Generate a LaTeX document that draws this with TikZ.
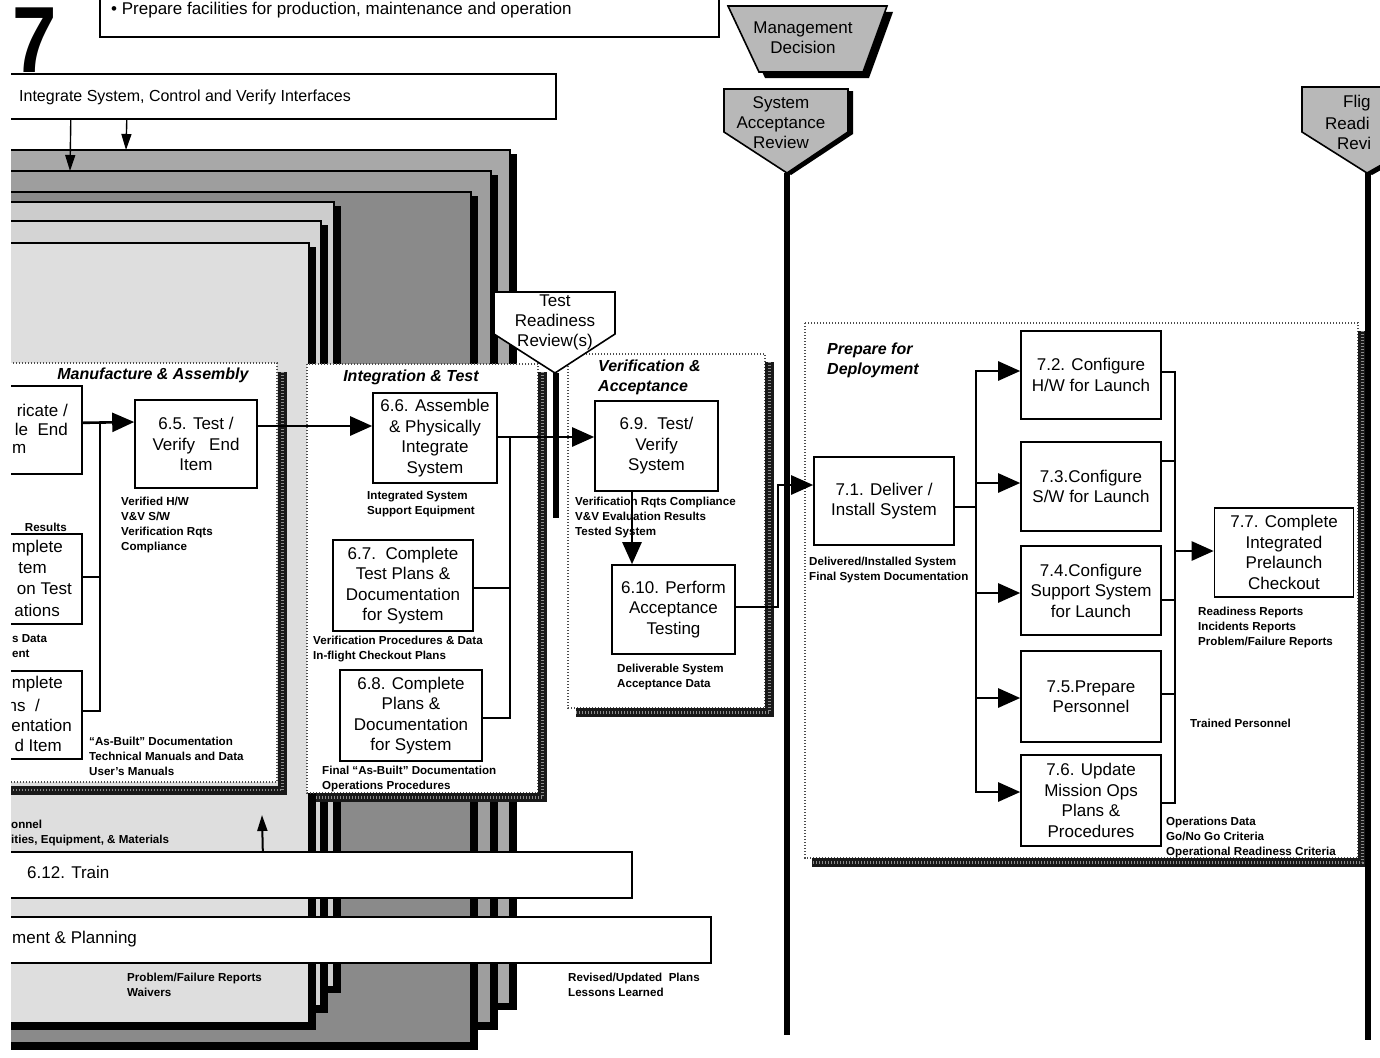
\documentclass[tikz,border=0pt]{standalone}
\usepackage{fontspec}
\setmainfont{Liberation Sans}
\usetikzlibrary{arrows.meta}
\definecolor{gA}{gray}{0.66}
\definecolor{gB}{gray}{0.62}
\definecolor{gC}{gray}{0.54}
\definecolor{gD}{gray}{0.80}
\definecolor{gE}{gray}{0.83}
\definecolor{gF}{gray}{0.87}
\definecolor{gM}{gray}{0.72}
\begin{document}
\begin{tikzpicture}[x=1pt,y=-1pt,
 pbox/.style={draw=black, line width=1.6pt, fill=white, align=center, font=\fontsize{17}{20.5}\selectfont, inner sep=0pt},
 frag/.style={font=\fontsize{17}{20.5}\selectfont, inner sep=0pt},
 lbl/.style={font=\fontsize{11.6}{15}\selectfont\bfseries, align=left, inner sep=0pt, anchor=west},
 conn/.style={line width=2.6pt},
 arr/.style={line width=2.6pt, -{Triangle[length=22pt,width=19pt]}},
 tarr/.style={line width=1.4pt, -{Triangle[length=16pt,width=10pt]}},
 grp/.style={fill=white, draw=black!70, line width=1.2pt, dash pattern=on 1.2pt off 1.8pt},
 hatch/.style={line width=9pt, black!90, postaction={draw, white!55!black, line width=2.5pt, dash pattern=on 0.7pt off 2.3pt}},
 gtitle/.style={font=\fontsize{16}{20}\selectfont\bfseries\itshape, inner sep=0pt},
 cardedge/.style={draw=black, line width=1.2pt},
 cardshadow/.style={line width=6pt, black},
 mile/.style={draw=black, line width=1.6pt, fill=gM},
 mtext/.style={font=\fontsize{17}{20}\selectfont, align=center, inner sep=0pt},
 wbox/.style={draw=black, line width=1.6pt, fill=white},
 btext/.style={font=\fontsize{17}{20}\selectfont, inner sep=0pt, anchor=west},
 vline/.style={line width=6pt, black},
]
\useasboundingbox (0,0) rectangle (1380,1057);
\clip (11,0) rectangle (1380,1057);

% stacked cards (back to front)
\filldraw[fill=gA, cardedge] (0,150) rectangle (510,1004);
\draw[cardshadow] (514,154) -- (514,1007) -- (0,1007);
\filldraw[fill=gB, cardedge] (0,171) rectangle (491,1023);
\draw[cardshadow] (495,175) -- (495,1027) -- (0,1027);
\filldraw[fill=gC, cardedge] (0,192) rectangle (471,1043);
\draw[cardshadow] (475,196) -- (475,1047) -- (0,1047);
\filldraw[fill=gD, cardedge] (0,202) rectangle (334,987);
\draw[cardshadow] (337.5,206) -- (337.5,990) -- (0,990);
\filldraw[fill=gE, cardedge] (0,221) rectangle (321,1006);
\draw[cardshadow] (324.5,225) -- (324.5,1010) -- (0,1010);
\filldraw[fill=gF, cardedge] (0,243) rectangle (309,1023);
\draw[cardshadow] (312.5,247) -- (312.5,1027) -- (0,1027);

% big numeral
\node[font=\fontsize{94}{94}\selectfont\bfseries, inner sep=0pt, anchor=base west] (seven) at (12,72) {\scalebox{0.85}[1]{7}};

% top boxes
\node[wbox, anchor=north west, minimum width=619pt, minimum height=42pt, inner sep=0pt] (prepbox) at (99,-6) {};
\node[btext] (preptext) at (111,10) {• Prepare facilities for production, maintenance and operation};
\node[wbox, anchor=north west, minimum width=560pt, minimum height=45pt, inner sep=0pt] (intbox) at (-5,73) {};
\node[btext, font=\fontsize{16}{20}\selectfont] (inttext) at (19,97) {Integrate System, Control and Verify Interfaces};
\coordinate (ia1) at (70,171);
\coordinate (ia2) at (126,150);
\draw[tarr] ([xshift=-205pt]intbox.south) -- (ia1);
\draw[tarr] ([xshift=-149pt]intbox.south) -- (ia2);

% group boxes
\filldraw[grp] (-5,363) rectangle (277,782);
\draw[hatch] (282.5,372) -- (282.5,790) -- (-5,790);
\filldraw[grp] (307,364) rectangle (538,793);
\draw[hatch] (542.5,372) -- (542.5,797.5) -- (316,797.5);
\filldraw[grp] (568,354) rectangle (765,708);
\draw[hatch] (769.5,362) -- (769.5,712.5) -- (576,712.5);
\filldraw[grp] (805,323) rectangle (1358,858);
\draw[hatch] (1362.5,331) -- (1362.5,862.5) -- (812,862.5);

\node[gtitle] (tman) at (153,375) {Manufacture \& Assembly};
\node[gtitle] (tint) at (411,377) {Integration \& Test};
\node[gtitle, anchor=west, align=left] (tver) at (598,377) {Verification \&\\Acceptance};
\node[gtitle, anchor=west, align=left] (tprep) at (827,360) {Prepare for\\Deployment};

% bottom bars
\node[wbox, anchor=north west, minimum width=636pt, minimum height=46pt, inner sep=0pt] (n612) at (-5,851) {};
\node[btext] (t612) at (27,872) {6.12. Train};
\node[wbox, anchor=north west, minimum width=715pt, minimum height=46pt, inner sep=0pt] (nplan) at (-5,916) {};
\node[btext] (tplan) at (12,939) {ment \& Planning};
\node[lbl] (lpers) at (11,833) {onnel\\ities, Equipment, \& Materials};
\node[lbl] (lprob) at (127,984.5) {Problem/Failure Reports\\Waivers};
\node[lbl] (lrev) at (568,984.5) {Revised/Updated~~Plans\\Lessons Learned};
\coordinate (up1) at (262,815);
\draw[tarr, line width=2pt] ([xshift=-51pt]n612.north) -- (up1);

% milestone lines
\coordinate (sartip) at (787,173);
\coordinate (sarend) at (787,1035);
\draw[vline] (sartip) -- (sarend);
\coordinate (frrtip) at (1368,173);
\coordinate (frrend) at (1368,1040);
\draw[vline] (frrtip) -- (frrend);

% Management decision
\fill[black] (734,12) -- (893,12) -- (869,78) -- (765,78) -- cycle;
\filldraw[mile] (728,6) -- (887,6) -- (863,72) -- (759,72) -- cycle;
\node[mtext] (md) at (803,38) {Management\\Decision};
% SAR
\fill[black] (729,91) -- (853,91) -- (853,134) -- (791,175) -- (729,134) -- cycle;
\filldraw[mile] (724,89) -- (848,89) -- (848,132) -- (787,173) -- (724,132) -- cycle;
\node[mtext] (sar) at (781,123) {System\\Acceptance\\Review};
% FRR
\fill[black] (1307,89) -- (1445,89) -- (1445,134) -- (1372,175) -- (1307,134) -- cycle;
\filldraw[mile] (1302,87) -- (1440,87) -- (1440,132) -- (1367,173) -- (1302,132) -- cycle;
\node[frag, anchor=west] (frr1) at (1343,103) {Flig};
\node[frag, anchor=west] (frr2) at (1325,123) {Readi};
\node[frag, anchor=west] (frr3) at (1337,143) {Revi};
% TRR
\coordinate (trrtip) at (556,373);
\coordinate (trrend) at (556,518);
\draw[vline] (trrtip) -- (trrend);
\filldraw[wbox] (494,292) -- (615,292) -- (615,334) -- (555,373) -- (494,334) -- cycle;
\node[mtext] (trr) at (555,322) {Test\\Readiness\\Review(s)};

% left truncated boxes
\node[pbox, minimum width=90pt, minimum height=88pt, anchor=north east] (n64) at (83,385) {};
\node[frag, anchor=east] (f64a) at (68,410) {ricate /};
\node[frag, anchor=east] (f64b) at (68,429) {le~~End};
\node[frag, anchor=west] (f64c) at (12,449) {m};
\node[lbl, anchor=east] (lres) at (67,527) {Results};
\node[pbox, minimum width=90pt, minimum height=90pt, anchor=north east] (n642) at (83,533) {};
\node[frag, anchor=east] (f642a) at (63,548) {mplete};
\node[frag, anchor=east] (f642b) at (47,568) {tem};
\node[frag, anchor=east] (f642c) at (72,589) {on Test};
\node[frag, anchor=east] (f642d) at (60,610) {ations};
\node[lbl] (ldata) at (12,646) {s Data\\ent};
\node[pbox, minimum width=90pt, minimum height=88pt, anchor=north east] (n643) at (83,670) {};
\node[frag, anchor=east] (f643a) at (63,684) {mplete};
\node[frag, anchor=east] (f643b) at (40,705) {ns~~/};
\node[frag, anchor=east] (f643c) at (72,725) {entation};
\node[frag, anchor=east] (f643d) at (62,745) {d Item};

% process boxes
\node[pbox, minimum width=122pt, minimum height=88pt] (n65) at (196,444) {6.5. Test /\\Verify~~~End\\Item};
\node[lbl] (l65) at (121,524.5) {Verified H/W\\V\&V S/W\\Verification Rqts\\Compliance};
\node[lbl] (lasb) at (89,756) {``As-Built'' Documentation\\Technical Manuals and Data\\User's Manuals};

\node[pbox, minimum width=124pt, minimum height=90pt] (n66) at (435,438) {6.6. Assemble\\\& Physically\\Integrate\\System};
\node[lbl] (l66) at (367,504) {Integrated System\\Support Equipment};
\node[pbox, minimum width=140pt, minimum height=91pt] (n67) at (403,585.5) {6.7.~~Complete\\Test Plans \&\\Documentation\\for System};
\node[lbl] (l67) at (313,649.5) {Verification Procedures \& Data\\In-flight Checkout Plans};
\node[pbox, minimum width=142pt, minimum height=91pt] (n68) at (411,715.5) {6.8. Complete\\Plans \&\\Documentation\\for System};
\node[lbl] (l68) at (322,778.5) {Final ``As-Built'' Documentation\\Operations Procedures};

\node[pbox, minimum width=123pt, minimum height=90pt] (n69) at (656.5,446) {6.9.~~Test/\\Verify\\System};
\node[lbl] (l69) at (575,517.5) {Verification Rqts Compliance\\V\&V Evaluation Results\\Tested System};
\node[pbox, minimum width=123pt, minimum height=89pt] (n610) at (673.5,609.5) {6.10. Perform\\Acceptance\\Testing};
\node[lbl] (l610) at (617,676.5) {Deliverable System\\Acceptance Data};

\node[pbox, minimum width=140pt, minimum height=88pt] (n71) at (884,501) {7.1. Deliver /\\Install System};
\node[lbl] (l71) at (809,570) {Delivered/Installed System\\Final System Documentation};
\node[pbox, minimum width=140pt, minimum height=88pt] (n72) at (1091,375) {7.2. Configure\\H/W for Launch};
\node[pbox, minimum width=140pt, minimum height=89pt] (n73) at (1091,486.5) {7.3.Configure\\S/W for Launch};
\node[pbox, minimum width=140pt, minimum height=89pt] (n74) at (1091,590.5) {7.4.Configure\\Support System\\for Launch};
\node[pbox, minimum width=140pt, minimum height=91pt] (n75) at (1091,696.5) {7.5.Prepare\\Personnel};
\node[pbox, minimum width=140pt, minimum height=91pt] (n76) at (1091,800.5) {7.6. Update\\Mission Ops\\Plans \&\\Procedures};
\node[pbox, minimum width=139pt, minimum height=89pt] (n77) at (1284,552.5) {7.7. Complete\\Integrated\\Prelaunch\\Checkout};
\node[lbl] (l77) at (1198,627.5) {Readiness Reports\\Incidents Reports\\Problem/Failure Reports};
\node[lbl] (l75) at (1190,723) {Trained Personnel};
\node[lbl] (l76) at (1166,837) {Operations Data\\Go/No Go Criteria\\Operational Readiness Criteria};

% connectors
\coordinate (busA) at (100,422);
\draw[arr] ([yshift=7pt]n64.east) -- ([yshift=22pt]n65.west);
\draw[conn] ([yshift=2pt]n642.east) -| (busA);
\draw[conn] ([yshift=4pt]n643.east) -| (busA);
\draw[arr] ([yshift=18pt]n65.east) -- ([yshift=12pt]n66.west);
\draw[arr] ([yshift=1pt]n66.east) -- ([yshift=9pt]n69.west);
\coordinate (busB) at (510,437);
\draw[conn] ([yshift=-2.5pt]n67.east) -| (busB);
\draw[conn] ([yshift=-2.5pt]n68.east) -| (busB);
\draw[arr] ([xshift=-24.5pt]n69.south) -- ([xshift=-41.5pt]n610.north);
\coordinate (j1) at (778,607);
\coordinate (j2) at (778,485);
\draw[arr] ([yshift=2.5pt]n610.east) -- (j1) -- (j2) -- ([yshift=16pt]n71.west);
\coordinate (busC) at (976,507);
\draw[conn] ([yshift=-6pt]n71.east) -- (busC);
\draw[arr] (busC) |- ([yshift=4pt]n72.west);
\draw[arr] (busC) |- ([yshift=3.5pt]n73.west);
\draw[arr] (busC) |- ([yshift=-2.5pt]n74.west);
\draw[arr] (busC) |- ([yshift=-1.5pt]n75.west);
\draw[arr] (busC) |- ([yshift=8.5pt]n76.west);
\coordinate (busD) at (1175,551);
\draw[conn] ([yshift=3pt]n72.east) -| (busD);
\draw[conn] ([yshift=25.5pt]n73.east) -| (busD);
\draw[conn] ([yshift=-9.5pt]n74.east) -| (busD);
\draw[conn] ([yshift=2.5pt]n75.east) -| (busD);
\draw[conn] ([yshift=-2.5pt]n76.east) -| (busD);
\draw[arr] (busD) -- ([yshift=1.5pt]n77.west);
\end{tikzpicture}
\end{document}
